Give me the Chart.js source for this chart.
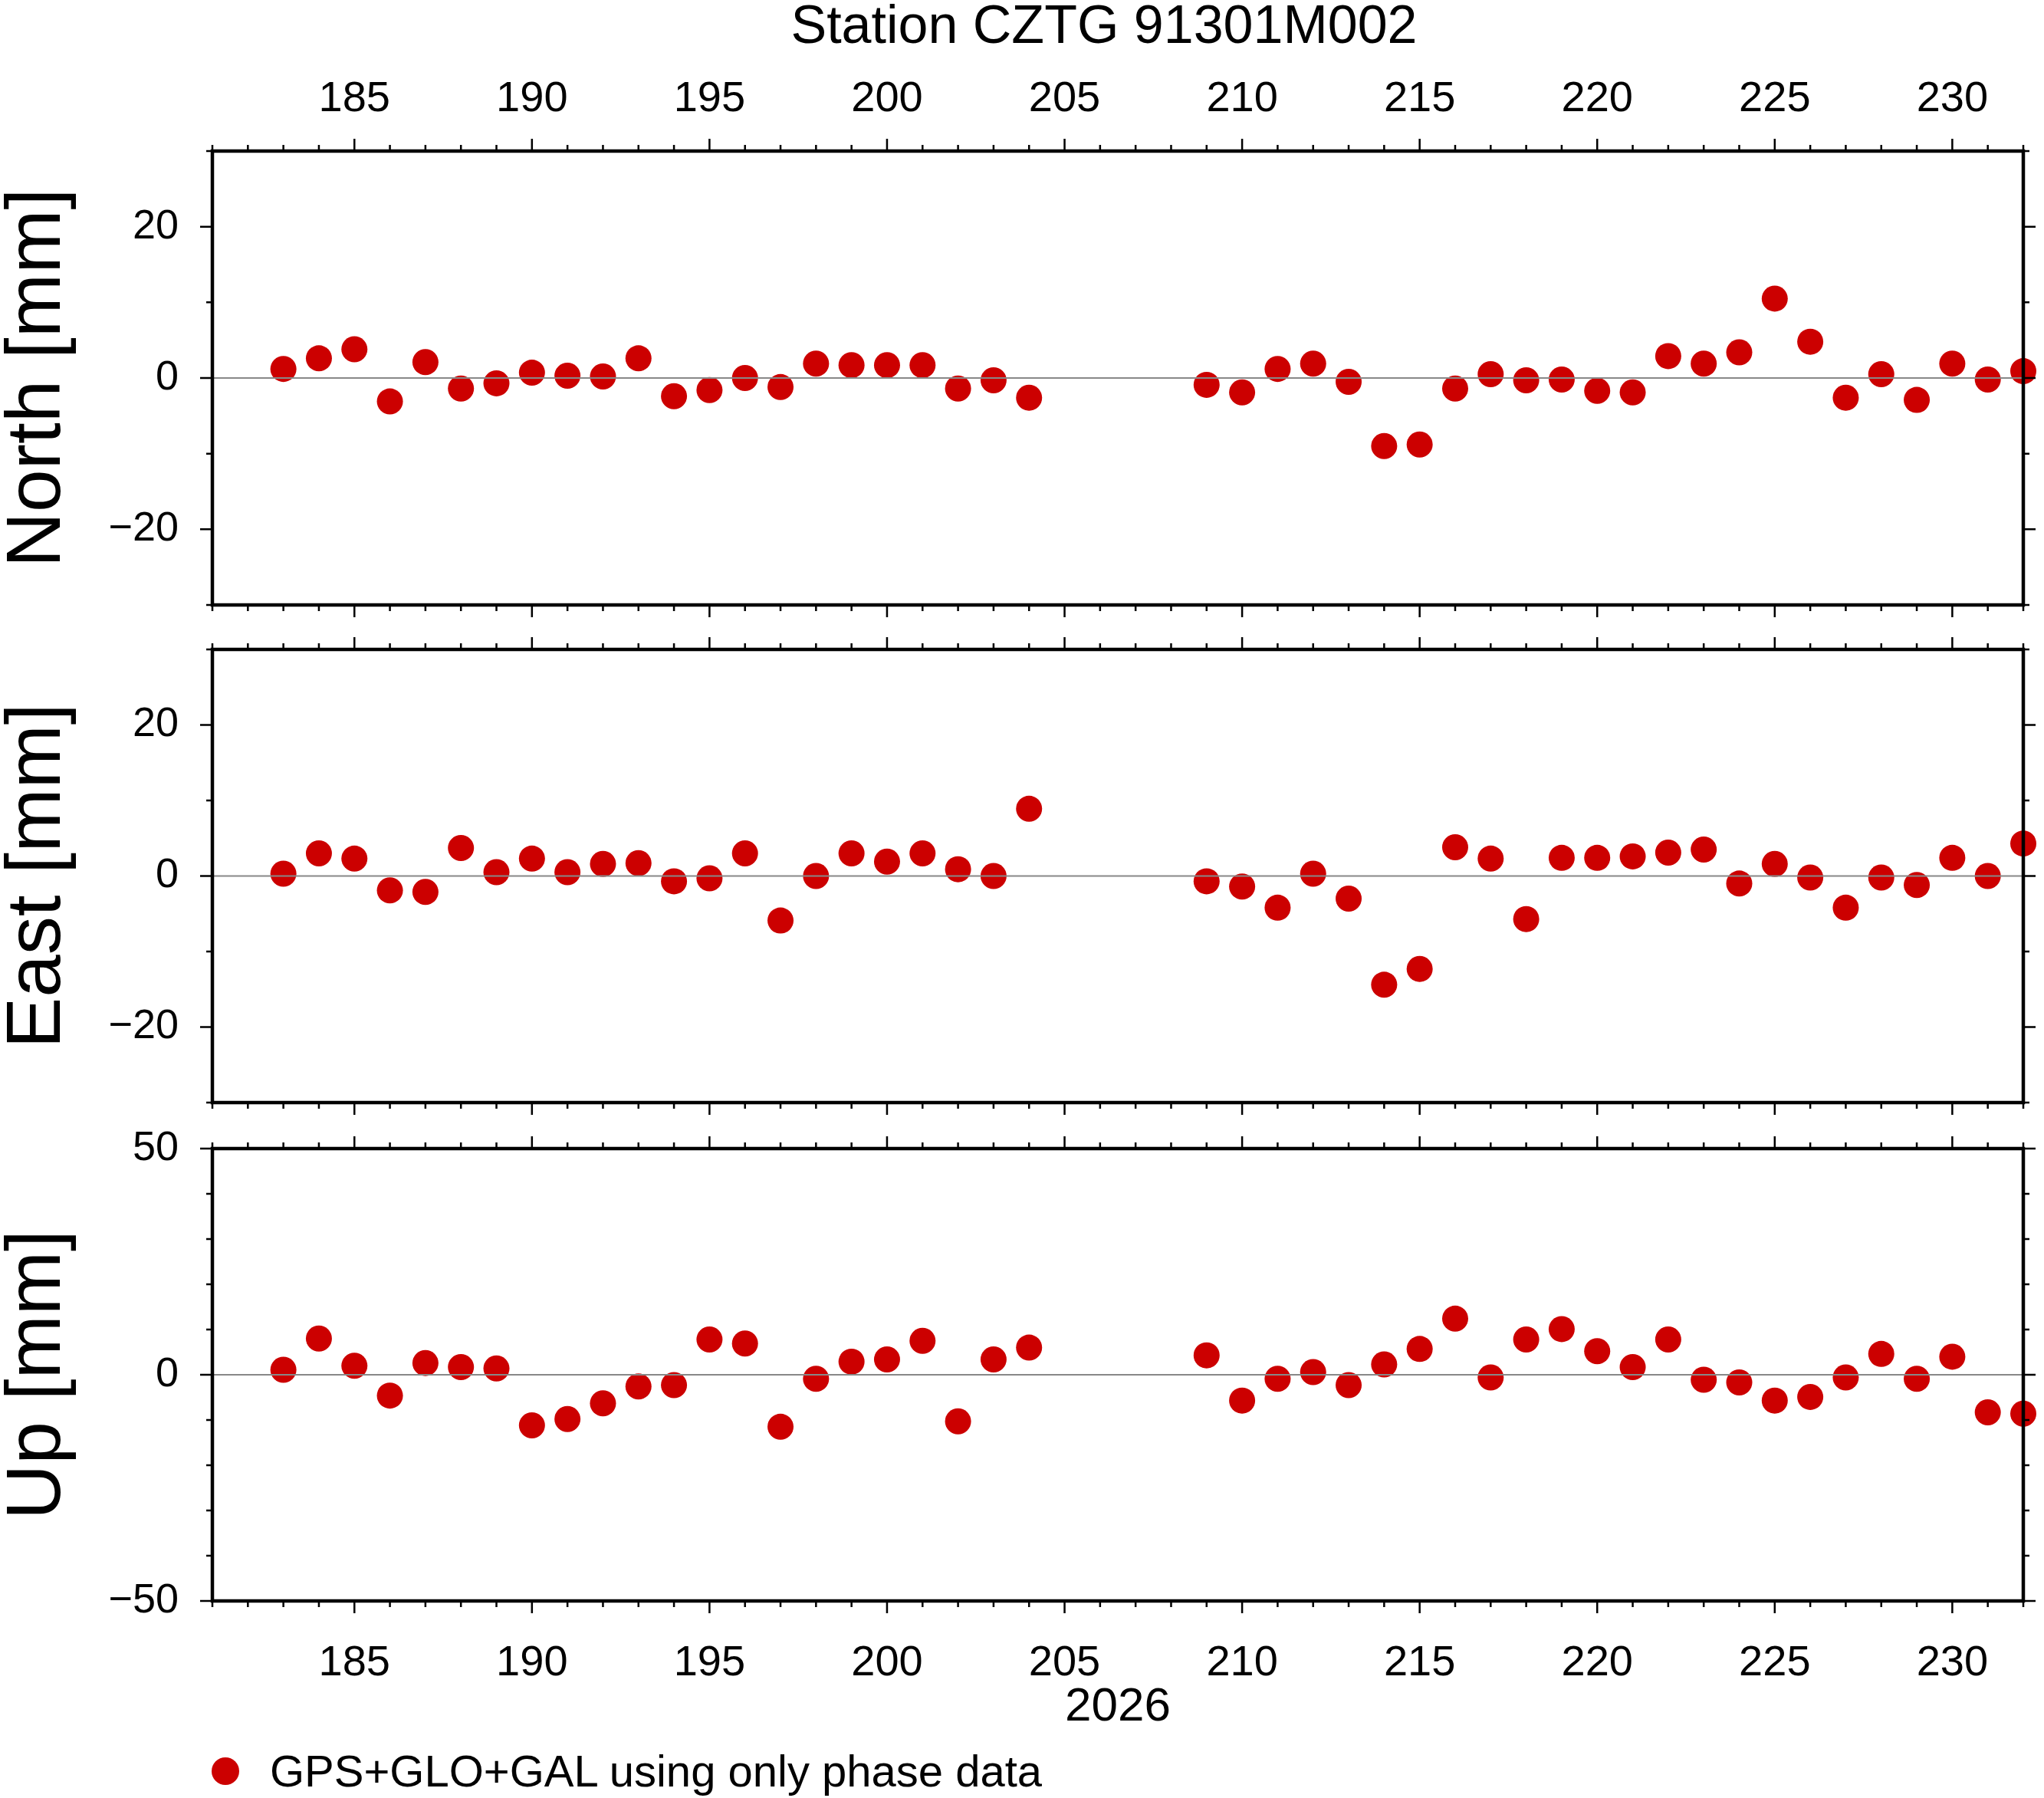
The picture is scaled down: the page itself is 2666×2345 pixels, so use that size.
<!DOCTYPE html>
<html><head><meta charset="utf-8">
<script src="https://cdn.jsdelivr.net/npm/chart.js@4.4.1/dist/chart.umd.min.js"></script>
<style>
body{margin:0;background:#fff;width:2666px;height:2345px;position:relative;overflow:hidden;font-family:"Liberation Sans",Arial,sans-serif}
canvas{position:absolute;left:0;top:0}
#title{position:absolute;top:-8px;left:0;width:2880px;text-align:center;font-size:70px}
#legend{position:absolute;left:276px;top:2276px;font-size:58px;display:flex;align-items:center}
#legend span.dot{display:inline-block;width:36px;height:36px;border-radius:50%;background:#cc0000;margin-right:40px}
</style></head><body>
<div id="title">Station CZTG 91301M002</div>
<canvas id="c1" width="2666" height="2345"></canvas>
<canvas id="c2" width="2666" height="2345"></canvas>
<canvas id="c3" width="2666" height="2345"></canvas>
<div id="legend"><span class="dot"></span>GPS+GLO+GAL using only phase data</div>
<script>
//Data
var days=[183,184,185,186,187,188,189,190,191,192,193,194,195,196,197,198,199,200,201,202,203,204,
209,210,211,212,213,214,215,216,217,218,219,220,221,222,223,224,225,226,227,228,229,230,231,232];
var north=[1.2,2.6,3.8,-3.1,2.1,-1.4,-0.7,0.7,0.3,0.2,2.6,-2.4,-1.6,0,-1.2,1.9,1.7,1.7,1.7,-1.4,-0.3,-2.6,
-0.9,-1.9,1.2,1.9,-0.5,-9.0,-8.8,-1.4,0.5,-0.3,-0.2,-1.7,-1.9,2.9,1.9,3.4,10.5,4.8,-2.6,0.5,-2.9,1.9,-0.2,0.9];
var east=[0.3,3.0,2.3,-1.9,-2.1,3.7,0.5,2.3,0.5,1.6,1.7,-0.7,-0.3,3.0,-5.9,0,3.0,1.9,3.0,0.9,0,8.9,
-0.7,-1.4,-4.2,0.3,-3.0,-14.4,-12.3,3.8,2.3,-5.7,2.4,2.4,2.6,3.1,3.5,-1.0,1.6,-0.2,-4.2,-0.2,-1.2,2.4,0,4.3];
var up=[1.1,8.0,2.0,-4.6,2.6,1.7,1.4,-11.2,-9.8,-6.3,-2.6,-2.3,7.8,6.9,-11.5,-0.9,2.9,3.4,7.5,-10.3,3.4,6.0,
4.3,-5.7,-0.9,0.6,-2.3,2.3,5.7,12.4,-0.6,7.8,10.1,5.2,1.7,7.8,-1.1,-1.7,-5.7,-4.9,-0.6,4.6,-0.9,4.0,-8.3,-8.6];
var xTicks=[185,190,195,200,205,210,215,220,225,230];
var FONT="'Liberation Sans', Arial, sans-serif";
//Panel frame + GMT style ticks
var framePlugin={
	id:'frame',
	afterDraw:function(chart,args,opts){
		var ctx=chart.ctx,a=chart.chartArea,x=chart.scales.x,y=chart.scales.y;
		ctx.save();
		//zero line
		ctx.strokeStyle='#888';ctx.lineWidth=2;
		var y0=y.getPixelForValue(0);
		ctx.beginPath();ctx.moveTo(a.left,y0);ctx.lineTo(a.right,y0);ctx.stroke();
		ctx.strokeStyle='#000';ctx.lineWidth=2.5;
		for(var d=181;d<=232;d++){
			var px=x.getPixelForValue(d),len=(d%5==0)?16:8;
			ctx.beginPath();
			ctx.moveTo(px,a.top);ctx.lineTo(px,a.top-len);
			ctx.moveTo(px,a.bottom);ctx.lineTo(px,a.bottom+len);
			ctx.stroke();
		}
		for(var v=y.min;v<=y.max;v+=opts.minor){
			var py=y.getPixelForValue(v),l2=(v%opts.major==0)?16:8;
			ctx.beginPath();
			ctx.moveTo(a.left,py);ctx.lineTo(a.left-l2,py);
			ctx.moveTo(a.right,py);ctx.lineTo(a.right+l2,py);
			ctx.stroke();
		}
		ctx.lineWidth=4.5;
		ctx.strokeRect(a.left,a.top,a.right-a.left,a.bottom-a.top);
		ctx.restore();
	}
};
function makePanel(id,vals,title,lim,major,top,bottom,xPos){
	var pts=days.map(function(d,i){return {x:d,y:vals[i]};});
	var showX=(xPos!==null);
	var xH=(xPos=='top')?top:(xPos=='bottom'?176:0);
	var padTop=(xPos=='top')?0:top;
	var padBottom=(xPos=='bottom')?2345-bottom-176:2345-bottom;
	return new Chart(document.getElementById(id),{
		type:'scatter',
		data:{datasets:[{data:pts,backgroundColor:'#cc0000',borderWidth:0,pointRadius:17,pointHoverRadius:17,clip:false}]},
		plugins:[framePlugin],
		options:{
			responsive:false,animation:false,
			layout:{padding:{left:0,right:27,top:padTop,bottom:padBottom}},
			plugins:{legend:{display:false},tooltip:{enabled:false},frame:{minor:10,major:major}},
			scales:{
				x:{type:'linear',min:181,max:232,display:showX,position:xPos||'bottom',
					grid:{display:false},border:{display:false},
					afterBuildTicks:function(s){s.ticks=xTicks.map(function(v){return {value:v};});},
					afterFit:function(s){s.height=xH;},
					ticks:{padding:xPos=='top'?26:40,font:{family:FONT,size:56},color:'#000',maxRotation:0},
					title:{display:xPos=='bottom',text:'2026',font:{family:FONT,size:62},color:'#000',padding:{top:0,bottom:0}}},
				y:{min:-lim,max:lim,
					grid:{display:false},border:{display:false},
					afterBuildTicks:function(s){s.ticks=[-major,0,major].map(function(v){return {value:v};});},
					afterFit:function(s){s.width=277;},
					ticks:{padding:36,font:{family:FONT,size:54},color:'#000',callback:function(v){return v<0?'\u2212'+(-v):v;}},
					title:{display:true,text:title,font:{family:FONT,size:100,lineHeight:1},color:'#000',padding:{top:0,bottom:0}}}
			}
		}
	});
}
makePanel('c1',north,'North [mm]',30,20,197,789,'top');
makePanel('c2',east,'East [mm]',30,20,847,1438,null);
makePanel('c3',up,'Up [mm]',50,50,1498,2088,'bottom');
</script>
</body></html>
